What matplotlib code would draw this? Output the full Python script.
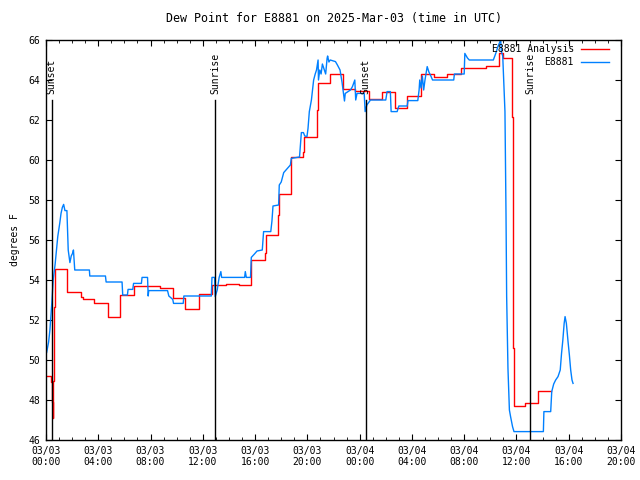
import numpy as np
import pandas as pd
import matplotlib
matplotlib.use('Agg')
import matplotlib.pyplot as plt
import matplotlib.dates as mdates

# hours since 2025-03-03 00:00 UTC
base = pd.Timestamp('2025-03-03 00:00')

# analysis (stepped)
an_hours = [0.0, 0.4, 0.45, 0.5, 0.53, 0.56, 0.6, 0.7, 1.63, 2.66, 2.8, 3.7, 4.75, 5.7, 6.72,
            7.71, 8.7, 9.7, 10.67, 11.7, 12.7, 13.74, 14.8, 15.7, 16.78, 16.85, 17.75, 17.8,
            18.72, 18.78, 19.67, 19.75, 20.74, 20.78, 21.71, 22.7, 23.68, 24.75, 25.72, 26.67,
            27.64, 28.66, 29.68, 30.7, 31.72, 33.7, 34.67, 35.0, 35.63, 35.7, 35.75, 35.83,
            36.68, 37.65, 38.67]
an_vals = [49.2, 48.9, 47.9, 47.1, 48.0, 48.97, 52.67, 54.53, 53.4, 53.13, 53.05, 52.83, 52.13,
           53.23, 53.7, 53.72, 53.58, 53.08, 52.55, 53.28, 53.73, 53.8, 53.73, 55.0, 55.33,
           56.25, 57.25, 58.28, 59.17, 60.13, 60.42, 61.17, 62.5, 63.85, 64.3, 63.53, 63.45,
           63.03, 63.42, 62.58, 63.22, 64.28, 64.17, 64.3, 64.58, 64.72, 65.37, 65.1, 62.17,
           56.42, 50.58, 47.7, 47.85, 48.45, 48.45]

# station obs
ob_hours = [0.05, 0.2, 0.3, 0.45, 0.55, 0.7, 0.8, 0.9, 1.05, 1.15, 1.25, 1.35, 1.45, 1.6, 1.65,
            1.7, 1.83, 1.93, 2.03, 2.1, 2.2, 3.32, 3.35, 4.55, 4.6, 5.82, 5.87, 6.23, 6.28, 6.64,
            6.7, 7.3, 7.35, 7.77, 7.82, 7.86, 9.3, 9.4, 9.7, 9.76, 10.5, 10.55, 12.65, 12.7,
            12.9, 12.95, 13.1, 13.25, 13.38, 13.44, 15.2, 15.25, 15.33, 15.65, 15.71, 15.95,
            16.15, 16.55, 16.65, 17.2, 17.29, 17.37, 17.8, 17.85, 18.0, 18.19, 18.7, 18.77,
            19.4, 19.54, 19.7, 19.8, 19.97, 20.05, 20.15, 20.31, 20.48, 20.6, 20.7, 20.82,
            20.85, 20.95, 21.05, 21.15, 21.3, 21.4, 21.51, 21.55, 21.65, 21.75, 22.15, 22.3,
            22.5, 22.65, 22.84, 22.9, 23.3, 23.45, 23.63, 23.7, 23.8, 24.35, 24.42, 24.55,
            24.83, 26.0, 26.1, 26.35, 26.41, 26.87, 27.0, 27.64, 27.7, 28.45, 28.55, 28.6,
            28.7, 28.8, 28.9, 29.0, 29.17, 29.3, 29.45, 29.58, 31.2, 31.25, 32.0, 32.05, 32.25,
            32.39, 34.23, 34.4, 34.58, 34.74, 34.79, 34.85, 34.95, 35.12, 35.2, 35.25, 35.35,
            35.46, 35.55, 35.7, 35.81, 38.06, 38.1, 38.62, 38.7, 38.85, 39.0, 39.18, 39.35,
            39.45, 39.55, 39.65, 39.72, 39.82, 39.95, 40.05, 40.15, 40.25, 40.33]
ob_vals = [50.38, 50.9, 51.5, 52.9, 54.0, 54.8, 55.5, 56.17, 56.83, 57.33, 57.63, 57.78, 57.47,
           57.47, 56.5, 55.5, 54.87, 55.2, 55.33, 55.5, 54.5, 54.5, 54.2, 54.2, 53.9, 53.9,
           53.25, 53.25, 53.53, 53.53, 53.83, 53.83, 54.13, 54.13, 53.2, 53.47, 53.47, 53.2,
           53.03, 52.83, 52.83, 53.2, 53.2, 54.13, 54.13, 53.17, 53.5, 54.13, 54.42, 54.13,
           54.13, 54.42, 54.13, 54.13, 55.13, 55.3, 55.45, 55.5, 56.42, 56.42, 56.95, 57.7,
           57.75, 58.75, 58.9, 59.37, 59.75, 60.08, 60.15, 61.37, 61.37, 61.2, 61.17, 61.58,
           62.42, 63.0, 64.0, 64.3, 64.5, 65.0, 64.0, 64.5, 64.3, 64.8, 64.5, 64.3, 65.08,
           65.2, 64.9, 65.0, 64.92, 64.75, 64.5, 63.9, 62.95, 63.33, 63.5, 63.67, 64.0, 63.0,
           63.33, 63.33, 62.42, 62.75, 63.0, 63.0, 63.42, 63.42, 62.42, 62.42, 62.7, 62.7,
           62.97, 62.97, 63.5, 64.0, 63.6, 64.2, 63.5, 64.0, 64.67, 64.4, 64.2, 64.0, 64.0,
           64.3, 64.3, 65.33, 65.1, 65.0, 65.0, 65.3, 65.67, 65.92, 66.0, 65.42, 65.2, 62.42,
           57.33, 53.17, 49.58, 47.5, 47.17, 46.67, 46.42, 46.42, 47.42, 47.42, 48.42, 48.8,
           49.0, 49.17, 49.5, 50.33, 51.0, 51.83, 52.17, 51.83, 50.9, 50.25, 49.5, 49.0, 48.83]

sun_hours = [0.44, 12.95, 24.47, 37.03]
sun_labels = ['Sunset', 'Sunrise', 'Sunset', 'Sunrise']

to_t = lambda hrs: base + pd.to_timedelta(hrs, unit='h')

plt.rcParams['font.family'] = 'DejaVu Sans Mono'
plt.rcParams['font.size'] = 7

fig = plt.figure(figsize=(6.4, 4.8), dpi=100)
ax = fig.add_axes([46/640, 40/480, 575/640, 400/480])

ax.plot(to_t(an_hours), an_vals, color='#ff0000', lw=1, drawstyle='steps-post')
ax.plot(to_t(ob_hours), ob_vals, color='#0080ff', lw=1)

for h, lab in zip(sun_hours, sun_labels):
    t = to_t(h)
    ax.plot([t, t], [46, 63], color='black', lw=1)
    ax.text(t, 63.3, lab, rotation=90, ha='center', va='bottom')

ax.set_xlim(base, base + pd.Timedelta(hours=44))
ax.set_ylim(46, 66)
ax.set_yticks(np.arange(46, 67, 2))
ax.xaxis.set_major_locator(mdates.HourLocator(byhour=range(0, 24, 4)))
ax.xaxis.set_minor_locator(mdates.HourLocator())
ax.xaxis.set_major_formatter(mdates.DateFormatter('%m/%d\n%H:%M'))
ax.tick_params(which='both', direction='in', top=True, right=True)
ax.tick_params(which='major', length=4.5, pad=4)
ax.tick_params(which='minor', length=2.5)
for sp in ax.spines.values():
    sp.set_linewidth(1)

ax.set_ylabel('degrees F', labelpad=6)
ax.set_title('Dew Point for E8881 on 2025-Mar-03 (time in UTC)', pad=13)

# key, top right
ax.text(0.918, 0.977, 'E8881 Analysis', ha='right', va='center', transform=ax.transAxes)
ax.plot([0.930, 0.979], [0.977, 0.977], color='#ff0000', lw=1, transform=ax.transAxes)
ax.text(0.918, 0.944, 'E8881', ha='right', va='center', transform=ax.transAxes)
ax.plot([0.930, 0.979], [0.944, 0.944], color='#0080ff', lw=1, transform=ax.transAxes)

plt.savefig('out.png', dpi=100)
